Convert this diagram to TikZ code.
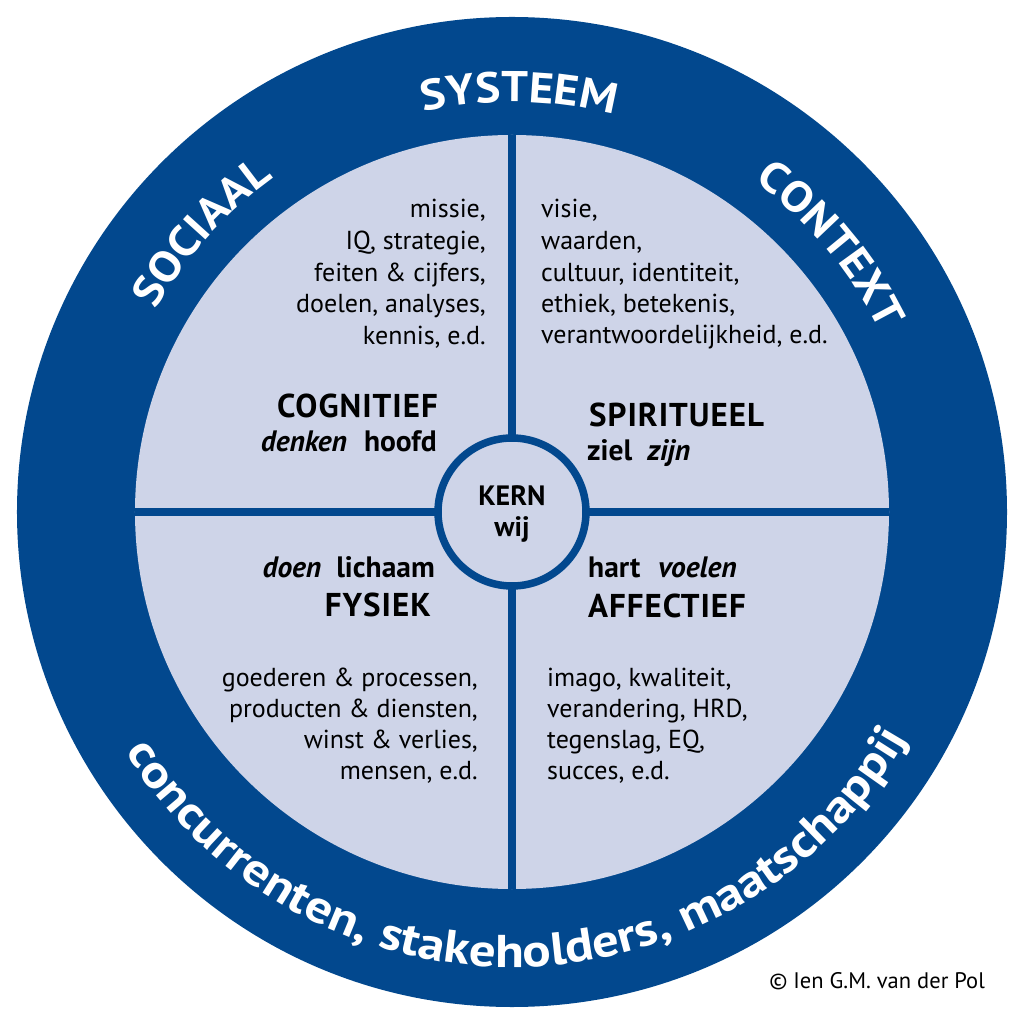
\documentclass[tikz,border=0pt]{standalone}
\usepackage{fontspec}
\setmainfont{PT Sans}
\newfontfamily\ringfont[FakeStretch=1.1]{PT Sans}
\newfontfamily\ringfontb[FakeStretch=1.15]{PT Sans}
\newfontfamily\headfont[LetterSpace=3]{PT Sans}
\usetikzlibrary{decorations.text}
\definecolor{ringblue}{RGB}{2,72,142}
\definecolor{fieldlav}{RGB}{206,212,232}
\begin{document}
\begin{tikzpicture}[x=1pt,y=1pt,
  body/.style={font=\fontsize{26}{31}\selectfont, inner sep=0pt, text=black},
  bodyR/.style={body, anchor=base east},
  bodyL/.style={body, anchor=base west},
  head/.style={font=\headfont\bfseries\fontsize{33}{36}\selectfont, inner sep=0pt},
  sub/.style={font=\bfseries\fontsize{29.5}{32}\selectfont, inner sep=0pt},
  kern/.style={font=\bfseries\fontsize{28}{32}\selectfont, inner sep=0pt, anchor=base},
  ringtop/.style={decorate, decoration={text along path, text align=center, text color=white,
     text={|\ringfont\bfseries\fontsize{43}{48}\selectfont|#1}}},
  ringbot/.style={decorate, decoration={text along path, text align=center, text color=white,
     text={|\ringfontb\bfseries\fontsize{46}{50}\selectfont|#1}}},
  divline/.style={ringblue, line width=7.5pt}
  ]
\useasboundingbox (-512,-512) rectangle (512,512);
% rings
\fill[ringblue] (0,0) circle[radius=495pt];
\fill[fieldlav] (0,0) circle[radius=377pt];
\coordinate (top) at (0,377);
\coordinate (bot) at (0,-377);
\coordinate (lft) at (-377,0);
\coordinate (rgt) at (377,0);
\draw[divline] (top) -- (bot);
\draw[divline] (lft) -- (rgt);
\draw[divline, fill=fieldlav] (0,0) circle[radius=74pt];
% ring texts
\path[ringtop=SOCIAAL] (163:410pt) arc[start angle=163, end angle=113, radius=410pt];
\path[ringtop=SYSTEEM] (114:410pt) arc[start angle=114, end angle=64, radius=410pt];
\path[ringtop=CONTEXT] (65:410pt) arc[start angle=65, end angle=15, radius=410pt];
\path[ringbot={concurrenten, stakeholders, maatschappij}] (191:455pt) arc[start angle=191, end angle=351, radius=455pt];
% centre
\node[kern] (kernA) at (0,6) {KERN};
\node[kern] (kernB) at (0,-25) {wij};
% top left
\node[bodyR] (tl1) at (-26,294) {missie,};
\node[bodyR] (tl2) at (-26,262) {IQ, strategie,};
\node[bodyR] (tl3) at (-26,230) {feiten \& cijfers,};
\node[bodyR] (tl4) at (-26,199) {doelen, analyses,};
\node[bodyR] (tl5) at (-26,167) {kennis, e.d.};
\node[head, anchor=base east] (cog) at (-74,94) {COGNITIEF};
\node[sub, anchor=base east] (cogs) at (-75,60) {\textit{denken}\hspace{17pt}hoofd};
% top right
\node[bodyL] (tr1) at (29,294) {visie,};
\node[bodyL] (tr2) at (29,262) {waarden,};
\node[bodyL] (tr3) at (29,230) {cultuur, identiteit,};
\node[bodyL] (tr4) at (29,199) {ethiek, betekenis,};
\node[bodyL] (tr5) at (29,168) {verantwoordelijkheid, e.d.};
\node[head, anchor=base west] (spi) at (77,85) {SPIRITUEEL};
\node[sub, anchor=base west] (spis) at (75,51) {ziel\hspace{15pt}\textit{zijn}};
% bottom left
\node[sub, anchor=base east] (fyss) at (-77,-66) {\textit{doen}\hspace{15pt}lichaam};
\node[head, anchor=base east] (fys) at (-81,-105) {FYSIEK};
\node[bodyR] (bl1) at (-34,-174) {goederen \& processen,};
\node[bodyR] (bl2) at (-34,-205) {producten \& diensten,};
\node[bodyR] (bl3) at (-34,-236) {winst \& verlies,};
\node[bodyR] (bl4) at (-34,-267) {mensen, e.d.};
% bottom right
\node[sub, anchor=base west] (affs) at (76,-66) {hart\hspace{18pt}\textit{voelen}};
\node[head, anchor=base west] (aff) at (76,-106) {AFFECTIEF};
\node[bodyL] (br1) at (35,-174) {imago, kwaliteit,};
\node[bodyL] (br2) at (35,-205) {verandering, HRD,};
\node[bodyL] (br3) at (35,-236) {tegenslag, EQ,};
\node[bodyL] (br4) at (35,-267) {succes, e.d.};
% copyright
\node[font=\fontsize{22.5}{26}\selectfont, inner sep=0pt, anchor=base east] (copy) at (473,-476) {© Ien G.M. van der Pol};
\end{tikzpicture}
\end{document}
